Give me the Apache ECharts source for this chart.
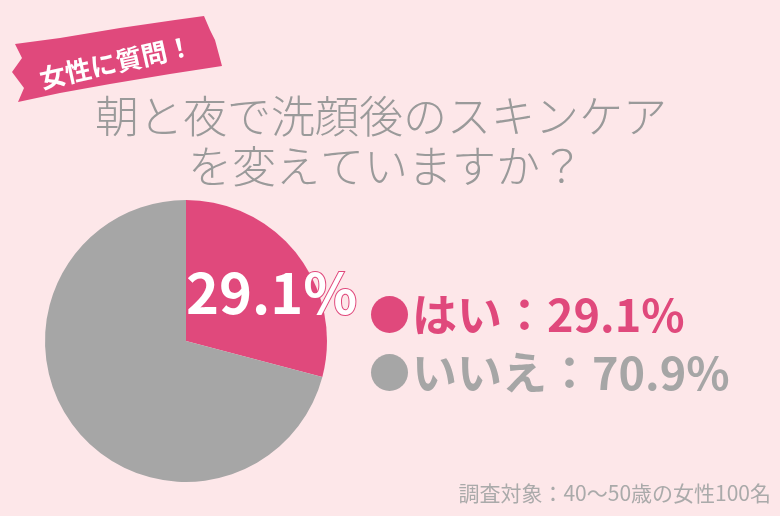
<!DOCTYPE html>
<html lang="ja">
<head>
    <meta charset="UTF-8">
    <title>朝と夜で洗顔後のスキンケアを変えていますか？</title>
    <script src="https://cdn.jsdelivr.net/npm/echarts@6/dist/echarts.min.js"></script>
    <style>
        html, body { margin: 0; padding: 0; background: #fde7e9; }
        #chart { width: 780px; height: 516px; }
    </style>
</head>
<body>
    <div id="chart"></div>
    <script>
        // データ
        const answers = ['はい', 'いいえ'];
        const percents = [29.1, 70.9];
        const colors = ['#e0497c', '#a6a6a6'];
        const titleLines = ['朝と夜で洗顔後のスキンケア', 'を変えていますか？'];
        const badgeText = '女性に質問！';
        const footnote = '調査対象：40～50歳の女性100名';

        const font = '"Noto Sans CJK JP", "Noto Sans", sans-serif';
        const chart = echarts.init(document.getElementById('chart'));

        const option = {
            backgroundColor: '#fde7e9',
            animation: false,
            legend: {
                orient: 'vertical',
                left: 366,
                top: 287,
                itemWidth: 37,
                itemHeight: 37,
                itemGap: 13,
                icon: 'circle',
                selectedMode: false,
                data: answers.map((a, i) => ({
                    name: a,
                    textStyle: { color: colors[i] }
                })),
                formatter: name => name + '：' + percents[answers.indexOf(name)] + '%',
                textStyle: { fontFamily: font, fontSize: 45, fontWeight: 'bold', padding: [0, 0, 0, -1] }
            },
            series: [{
                type: 'pie',
                center: [186, 341],
                radius: 141,
                startAngle: 90,
                clockwise: true,
                label: { show: false },
                labelLine: { show: false },
                emphasis: { disabled: true },
                data: answers.map((a, i) => ({
                    name: a,
                    value: percents[i],
                    itemStyle: { color: colors[i] }
                }))
            }],
            graphic: [
                // リボン
                {
                    type: 'polygon',
                    shape: {
                        points: [[15, 44], [60, 38], [120, 28], [175, 20], [204, 16], [210, 30], [215, 40],
                                 [222, 66], [170, 74], [110, 84], [60, 93], [18, 102], [24, 88], [12, 72], [22, 58]]
                    },
                    style: { fill: '#e0497c' }
                },
                {
                    type: 'text',
                    x: 116, y: 62,
                    rotation: 0.22,
                    style: {
                        text: badgeText, fill: '#fff', fontFamily: font, fontSize: 26, fontWeight: 'bold',
                        align: 'center', verticalAlign: 'middle'
                    }
                },
                // タイトル
                {
                    type: 'text',
                    x: 381, y: 116,
                    style: {
                        text: titleLines[0], fill: '#9a9a9a', fontFamily: font, fontSize: 44, fontWeight: 300,
                        align: 'center', verticalAlign: 'middle'
                    }
                },
                {
                    type: 'text',
                    x: 386, y: 166,
                    style: {
                        text: titleLines[1], fill: '#9a9a9a', fontFamily: font, fontSize: 44, fontWeight: 300,
                        align: 'center', verticalAlign: 'middle'
                    }
                },
                // 円グラフ上のラベル
                {
                    type: 'text',
                    x: 186, y: 293,
                    z: 100,
                    style: {
                        text: percents[0] + '%', fill: '#fff', stroke: '#e0497c', lineWidth: 2,
                        fontFamily: font, fontSize: 56, fontWeight: 'bold',
                        align: 'left', verticalAlign: 'middle'
                    }
                },
                // 注記
                {
                    type: 'text',
                    right: 9, top: 483,
                    style: {
                        text: footnote, fill: '#aaaaaa', fontFamily: font, fontSize: 21
                    }
                }
            ]
        };

        chart.setOption(option);
    </script>
</body>
</html>
